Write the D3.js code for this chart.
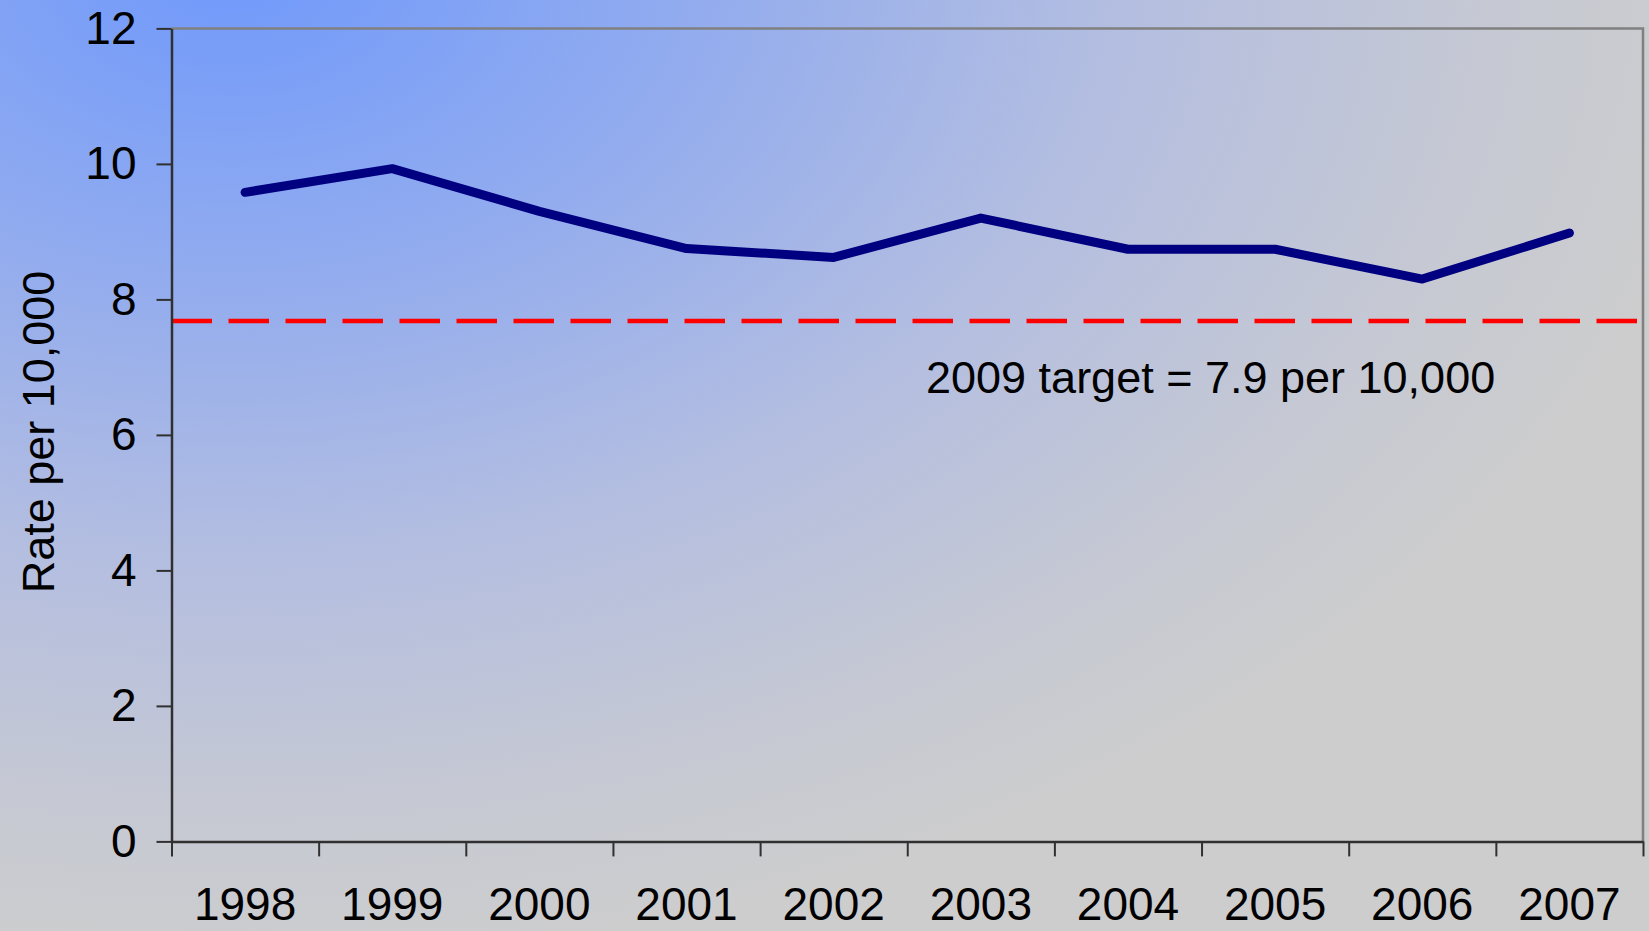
<!DOCTYPE html>
<html>
<head>
<meta charset="utf-8">
<script src="https://cdn.jsdelivr.net/npm/d3@7"></script>
<style>
  html, body { margin: 0; padding: 0; overflow: hidden; }
  text { font-family: "Liberation Sans", Arial, sans-serif; fill: #000; }
</style>
</head>
<body>
<div class="canva"></div>
<script>
// chart data
var years = ["1998", "1999", "2000", "2001", "2002", "2003", "2004", "2005", "2006", "2007"];
var rateValues = [9.58, 9.93, 9.3, 8.75, 8.62, 9.2, 8.74, 8.74, 8.3, 8.98];
var yTicks = [0, 2, 4, 6, 8, 10, 12];
var targetValue = 7.68;
var targetLabel = "2009 target = 7.9 per 10,000";
var yTitle = "Rate per 10,000";

const width = 1649, height = 931;
const margin = {top: 28.4, right: 6, bottom: 89.6, left: 171.5};
const graphWidth = width - margin.left - margin.right;
const graphHeight = height - margin.top - margin.bottom;

const svg = d3.select(".canva").append("svg")
    .attr("width", width)
    .attr("height", height);

// background gradient, blue in the top-left corner fading to grey
// (squashed vertically so the left edge greys out faster than the top)
var grad = svg.append("defs").append("radialGradient")
    .attr("id", "bg")
    .attr("gradientUnits", "userSpaceOnUse")
    .attr("cx", 0).attr("cy", 0).attr("r", 1500)
    .attr("gradientTransform", "translate(230,-30) scale(1,0.66)");
grad.append("stop").attr("offset", 0).attr("stop-color", "#7099fb");
grad.append("stop").attr("offset", 0.3).attr("stop-color", "#91abef");
grad.append("stop").attr("offset", 0.6).attr("stop-color", "#b4bee0");
grad.append("stop").attr("offset", 0.85).attr("stop-color", "#c6c9d3");
grad.append("stop").attr("offset", 1).attr("stop-color", "#cdcdce");

svg.append("rect")
    .attr("width", width)
    .attr("height", height)
    .attr("fill", "url(#bg)");

const mainCanvas = svg.append("g")
    .attr("transform", `translate(${margin.left}, ${margin.top})`);

var x = d3.scaleBand()
    .domain(years)
    .range([0, graphWidth])
    .padding(0);

// used only for the tick marks between the years
var xEdges = d3.scaleLinear()
    .domain([0, years.length])
    .range([0, graphWidth]);

var y = d3.scaleLinear()
    .domain([0, 12])
    .range([graphHeight, 0]);

// top and right border of the plot
mainCanvas.append("path")
    .attr("d", `M0,0H${graphWidth}V${graphHeight}`)
    .attr("fill", "none")
    .attr("stroke", "#808080")
    .attr("stroke-width", 2.5);

// target line
mainCanvas.append("line")
    .attr("x1", 0)
    .attr("x2", graphWidth - 5)
    .attr("y1", y(targetValue))
    .attr("y2", y(targetValue))
    .attr("stroke", "#ff0000")
    .attr("stroke-width", 4.5)
    .attr("stroke-dasharray", "40.5,16.5");

mainCanvas.append("text")
    .attr("x", 926 - margin.left)
    .attr("y", 393 - margin.top)
    .style("font-size", "45px")
    .text(targetLabel);

// x axis: tick marks at the year boundaries
var xAxis = d3.axisBottom(xEdges)
    .tickValues(d3.range(0, years.length + 1))
    .tickFormat("")
    .tickSize(15)
    .tickSizeOuter(0);

var gx = mainCanvas.append("g")
    .attr("transform", `translate(0, ${graphHeight})`)
    .call(xAxis);

// year labels at band centres
var xLabels = d3.axisBottom(x)
    .tickSize(0)
    .tickPadding(0);

var gxl = mainCanvas.append("g")
    .attr("transform", `translate(0, ${graphHeight})`)
    .call(xLabels);
gxl.select(".domain").remove();
gxl.selectAll("text")
    .attr("y", 79)
    .attr("dy", 0)
    .style("font-size", "46px")
    .attr("fill", "#000");

var yAxis = d3.axisLeft(y)
    .tickValues(yTicks)
    .tickSize(15)
    .tickSizeOuter(0)
    .tickPadding(20);

var gy = mainCanvas.append("g").call(yAxis);
gy.selectAll("text")
    .style("font-size", "46px")
    .attr("fill", "#000");

[gx, gy].forEach(function (g) {
    g.select(".domain").attr("stroke", "#303030").attr("stroke-width", 2.5);
    g.selectAll(".tick line").attr("stroke", "#303030").attr("stroke-width", 2);
});

// y axis title
svg.append("text")
    .attr("transform", `translate(54, ${432}) rotate(-90)`)
    .attr("text-anchor", "middle")
    .style("font-size", "45px")
    .text(yTitle);

// rate line
var valueLine = d3.line()
    .x((d, i) => x(years[i]) + x.bandwidth() / 2)
    .y(d => y(d));

mainCanvas.append("path")
    .datum(rateValues)
    .attr("fill", "none")
    .attr("stroke", "#000080")
    .attr("stroke-width", 9)
    .attr("stroke-linejoin", "round")
    .attr("stroke-linecap", "round")
    .attr("d", valueLine);
</script>
</body>
</html>
